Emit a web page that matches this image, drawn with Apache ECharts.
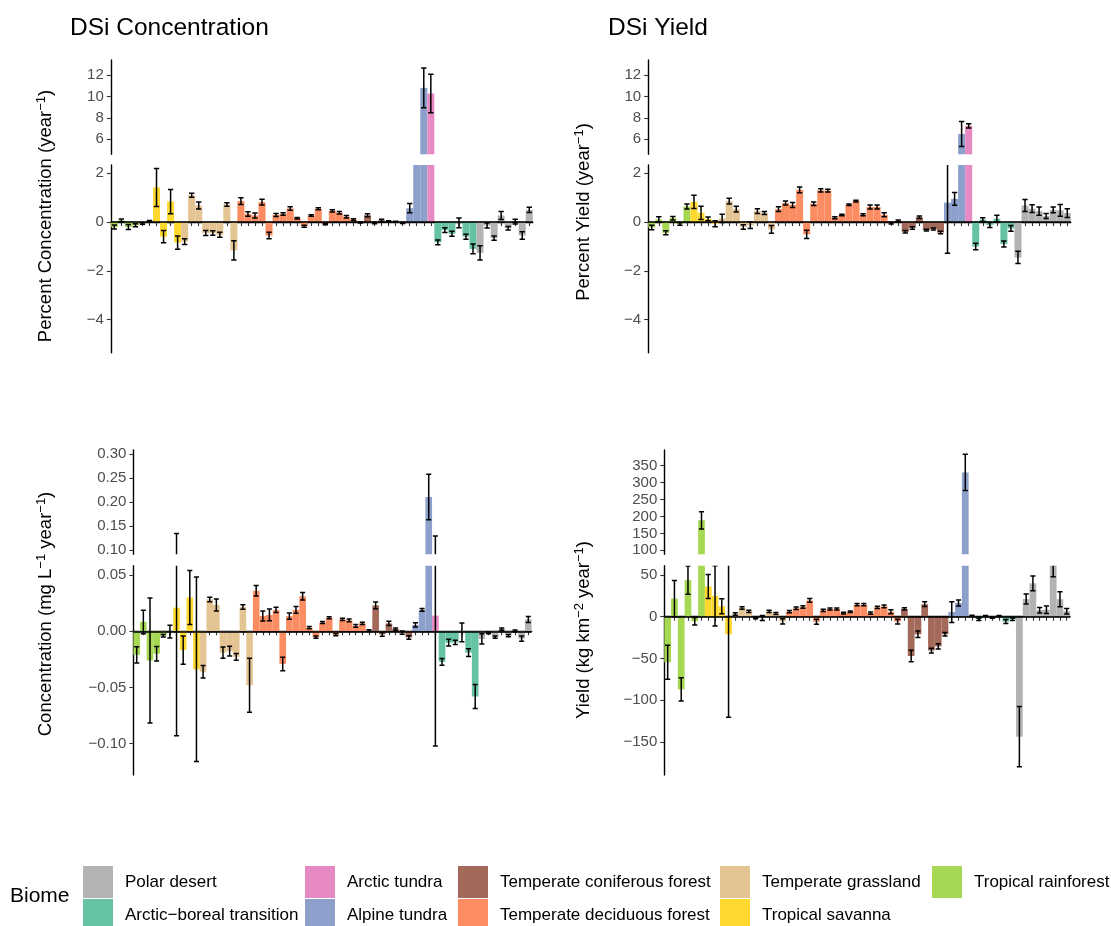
<!DOCTYPE html>
<html>
<head>
<meta charset="utf-8">
<script src="https://cdn.jsdelivr.net/npm/echarts@6/dist/echarts.min.js"></script>
<style>
  html, body { margin: 0; padding: 0; background: #ffffff; }
  #chart { width: 1111px; height: 926px; }
</style>
</head>
<body>
<div id="chart"></div>
<script>
// ---- Biomes and their colours ----
const biomes = ['Polar desert', 'Arctic\u2212boreal transition', 'Arctic tundra', 'Alpine tundra',
  'Temperate coniferous forest', 'Temperate deciduous forest', 'Temperate grassland',
  'Tropical savanna', 'Tropical rainforest'];
const biomeColors = ['#B3B3B3', '#66C2A5', '#E78AC3', '#8DA0CB', '#A36A5A', '#FC8D62', '#E5C494', '#FFD92F', '#A6D854'];

// ---- Sites (one bar per site, same order in every panel) ----
const sites = Array.from({ length: 60 }, (_, i) => 'site' + (i + 1));
// biome index for each site
const siteBiome = [
  8, 8, 8, 8, 8, 8,
  7, 7, 7, 7,
  6, 6, 6, 6, 6, 6, 6, 6,
  5, 5, 5, 5, 5, 5, 5, 5, 5, 5, 5, 5, 5, 5, 5, 5, 5,
  4, 4, 4, 4, 4, 4, 4,
  3, 3, 3,
  2,
  1, 1, 1, 1, 1, 1,
  0, 0, 0, 0, 0, 0, 0, 0
];

// ---- Percent change in DSi concentration (per year) and its standard error ----
const concPct = [
  -0.2, 0.07, -0.2, -0.13, -0.06, 0.03, 1.42, -0.6, 0.84, -0.84,
  -0.8, 1.1, 0.68, -0.45, -0.45, -0.52, 0.72, -1.16, 0.86, 0.33,
  0.27, 0.82, -0.55, 0.29, 0.33, 0.56, 0.16, -0.17, 0.27, 0.55,
  -0.08, 0.46, 0.38, 0.22, 0.1, -0.02, 0.28, -0.04, 0.07, 0.03,
  0.01, -0.04, 0.57, 3.5, 10.8, 10.27, -0.83, -0.33, -0.48, -0.03,
  -0.6, -1.1, -1.26, -0.14, -0.66, 0.27, -0.25, 0.02, -0.55, 0.5
];
const concPctErr = [
  0.08, 0.06, 0.1, 0.06, 0.03, 0.03, 0.78, 0.25, 0.5, 0.27,
  0.12, 0.08, 0.14, 0.1, 0.09, 0.1, 0.07, 0.39, 0.14, 0.09,
  0.1, 0.12, 0.13, 0.06, 0.05, 0.07, 0.03, 0.04, 0.03, 0.04,
  0.03, 0.05, 0.05, 0.05, 0.04, 0.02, 0.06, 0.03, 0.05, 0.02,
  0.02, 0.02, 0.19, 0.5, 1.85, 1.8, 0.1, 0.1, 0.1, 0.2,
  0.1, 0.2, 0.29, 0.1, 0.09, 0.16, 0.07, 0.1, 0.15, 0.11
];

// ---- Percent change in DSi yield (per year) and its standard error ----
const yieldPct = [
  -0.22, 0.11, -0.44, 0.16, -0.08, 0.64, 0.83, 0.38, 0.13, -0.07,
  0.15, 0.86, 0.53, -0.2, -0.13, 0.45, 0.37, -0.3, 0.53, 0.78,
  0.7, 1.32, -0.5, 0.75, 1.3, 1.29, 0.18, 0.29, 0.71, 0.86,
  0.3, 0.62, 0.62, 0.3, -0.05, 0.05, -0.4, -0.24, 0.2, -0.33,
  -0.28, -0.43, 0.8, 0.95, 6.5, 7.25, -1.0, 0.1, -0.12, 0.14,
  -0.9, -0.26, -1.45, 0.68, 0.55, 0.45, 0.25, 0.5, 0.48, 0.37
];
const yieldPctErr = [
  0.09, 0.11, 0.08, 0.07, 0.05, 0.1, 0.27, 0.27, 0.08, 0.12,
  0.17, 0.12, 0.12, 0.09, 0.13, 0.1, 0.06, 0.16, 0.1, 0.08,
  0.1, 0.12, 0.17, 0.07, 0.07, 0.06, 0.04, 0.03, 0.03, 0.04,
  0.04, 0.08, 0.08, 0.08, 0.03, 0.04, 0.05, 0.05, 0.05, 0.04,
  0.04, 0.05, 2.08, 0.26, 1.17, 0.2, 0.13, 0.08, 0.1, 0.14,
  0.12, 0.12, 0.25, 0.25, 0.16, 0.17, 0.1, 0.12, 0.24, 0.18
];

// ---- Change in DSi concentration (mg L-1 year-1) and its standard error ----
const conc = [
  -0.021, 0.0083, -0.026, -0.02, -0.004, -0.0003, 0.021, -0.0167, 0.03, -0.0338,
  -0.036, 0.0283, 0.0234, -0.019, -0.0177, -0.0227, 0.0216, -0.048, 0.036, 0.0136,
  0.0145, 0.019, -0.029, 0.0134, 0.019, 0.0311, 0.0032, -0.0053, 0.0077, 0.012,
  -0.003, 0.0105, 0.0097, 0.0048, 0.007, 0.0005, 0.023, -0.0027, 0.007, 0.002,
  -0.0012, -0.0055, 0.0056, 0.019, 0.211, 0.0139, -0.0272, -0.0101, -0.0099, -0.001,
  -0.019, -0.058, -0.0068, -0.0015, -0.0053, 0.002, -0.0038, 0.0003, -0.0065, 0.0104
];
const concErr = [
  0.0073, 0.0104, 0.0556, 0.0064, 0.0012, 0.0056, 0.114, 0.0126, 0.024, 0.082,
  0.0056, 0.002, 0.0053, 0.005, 0.0044, 0.003, 0.002, 0.024, 0.0047, 0.0044,
  0.0052, 0.0024, 0.006, 0.0028, 0.003, 0.0033, 0.001, 0.001, 0.0009, 0.0009,
  0.001, 0.001, 0.0013, 0.0013, 0.001, 0.0008, 0.003, 0.0017, 0.0018, 0.001,
  0.0014, 0.0015, 0.0019, 0.0012, 0.0475, 0.116, 0.003, 0.003, 0.0019, 0.0084,
  0.0035, 0.0107, 0.0045, 0.0008, 0.001, 0.001, 0.001, 0.0008, 0.0023, 0.0027
];

// ---- Change in DSi yield (kg km-2 year-1) and its standard error ----
const yieldAbs = [
  -54.5, 21.7, -87, 43.8, -5.4, 188.6, 36.3, 25, 12.5, -21,
  3.2, 10.5, 6.4, -1.5, -1.6, 6.4, 4, -5.6, 6.2, 10.2,
  11.6, 19.5, -6, 7.6, 9.2, 9.2, 4.4, 6, 14.4, 14.4,
  4.4, 11.2, 12.4, 6, -5.8, 9.4, -47, -21, 15, -40.5,
  -35.5, -21, 5.6, 16.4, 330, 1, -3, 1, -1, 0.8,
  -5.8, -3, -143.6, 21.2, 40, 7.8, 8.4, 62, 21, 6.6
];
const yieldAbsErr = [
  20.5, 21.7, 13.8, 16.8, 4.6, 25.6, 14.4, 36, 9, 99.5,
  1.5, 1.5, 1.4, 1, 3, 1.4, 1.2, 3.2, 1.4, 1.4,
  1.4, 2.3, 3, 1.4, 1.2, 1.2, 1, 1, 1.4, 1.4,
  1.4, 1.4, 1.6, 2.4, 2.8, 1.4, 7, 3.8, 2.8, 2.8,
  3.2, 2, 12.4, 3.6, 53.6, 0.8, 1.6, 0.6, 0.8, 0.8,
  2.4, 1.6, 36, 6, 8.8, 3.2, 4.4, 14, 9, 3.4
];

// ---- Tick labels of the broken y axes ----
const pctTicksUpper = [6, 8, 10, 12];
const pctTicksLower = [-4, -2, 0, 2];
const concTicksUpper = [0.10, 0.15, 0.20, 0.25, 0.30];
const concTicksLower = [-0.10, -0.05, 0.00, 0.05];
const yieldTicksUpper = [100, 150, 200, 250, 300, 350];
const yieldTicksLower = [-150, -100, -50, 0, 50];

// ---- Layout of the four panels, each split into an upper and a lower part ----
const FONT = '"Liberation Sans", Arial, Helvetica, sans-serif';
const panels = [
  { values: concPct, errors: concPctErr, left: 110.8, right: 532.8,
    upper: { top: 60, bottom: 154.3, min: 4.6, max: 13.4, ticks: pctTicksUpper, digits: 0 },
    lower: { top: 165, bottom: 352.7, min: -5.355, max: 2.34, ticks: pctTicksLower, digits: 0 } },
  { values: yieldPct, errors: yieldPctErr, left: 648.2, right: 1070.8,
    upper: { top: 60, bottom: 154.3, min: 4.6, max: 13.4, ticks: pctTicksUpper, digits: 0 },
    lower: { top: 165, bottom: 352.7, min: -5.355, max: 2.34, ticks: pctTicksLower, digits: 0 } },
  { values: conc, errors: concErr, left: 133.4, right: 531.6,
    upper: { top: 450, bottom: 554.3, min: 0.0917, max: 0.309, ticks: concTicksUpper, digits: 2 },
    lower: { top: 565.7, bottom: 775, min: -0.1278, max: 0.0583, ticks: concTicksLower, digits: 2 } },
  { values: yieldAbs, errors: yieldAbsErr, left: 664.3, right: 1070.1,
    upper: { top: 450, bottom: 554.3, min: 88.2, max: 396.4, ticks: yieldTicksUpper, digits: 0 },
    lower: { top: 565.7, bottom: 775, min: -189.5, max: 61.1, ticks: yieldTicksLower, digits: 0 } }
];

function drawErrorBar(params, api) {
  const i = api.value(0);
  const lo = api.coord([i, api.value(1)]);
  const hi = api.coord([i, api.value(2)]);
  const half = api.size([1, 0])[0] * 0.38;
  const style = { stroke: '#000000', lineWidth: 1.5, fill: null };
  return {
    type: 'group',
    children: [
      { type: 'line', shape: { x1: lo[0], y1: lo[1], x2: hi[0], y2: hi[1] }, style },
      { type: 'line', shape: { x1: lo[0] - half, y1: lo[1], x2: lo[0] + half, y2: lo[1] }, style },
      { type: 'line', shape: { x1: hi[0] - half, y1: hi[1], x2: hi[0] + half, y2: hi[1] }, style }
    ]
  };
}

const grids = [], xAxes = [], yAxes = [], series = [];
panels.forEach((p) => {
  ['upper', 'lower'].forEach((part) => {
    const g = p[part];
    const idx = grids.length;
    const isLower = part === 'lower';
    grids.push({ left: p.left, top: g.top, width: p.right - p.left, height: g.bottom - g.top, containLabel: false });
    xAxes.push({
      type: 'category', gridIndex: idx, data: sites, boundaryGap: true, show: isLower,
      axisLine: { show: isLower, lineStyle: { color: '#000', width: 1.4 } },
      axisTick: { show: isLower, alignWithLabel: true, interval: 0, length: 4, lineStyle: { color: '#333', width: 1.1 } },
      axisLabel: { show: false }, splitLine: { show: false }
    });
    yAxes.push({
      type: 'value', gridIndex: idx, min: g.min, max: g.max, scale: true,
      axisLine: { show: true, lineStyle: { color: '#000', width: 1.4 } },
      axisTick: { show: true, length: 4, customValues: g.ticks, lineStyle: { color: '#333', width: 1.1 } },
      axisLabel: {
        show: true, customValues: g.ticks, margin: 7, color: '#4D4D4D', fontSize: 15, fontFamily: FONT,
        formatter: (v) => Number(v).toFixed(g.digits).replace('-', '\u2212')
      },
      splitLine: { show: false }
    });
    const bar = {
      type: 'bar', xAxisIndex: idx, yAxisIndex: idx, barCategoryGap: '0%', clip: true, silent: true,
      data: p.values.map((v, i) => ({ value: v, itemStyle: { color: biomeColors[siteBiome[i]] } })),
      z: 2
    };
    if (isLower) {
      bar.markLine = {
        silent: true, symbol: 'none', z: 5, animation: false,
        label: { show: false },
        lineStyle: { color: '#000', type: 'solid', width: 1.6 },
        data: [{ yAxis: 0 }]
      };
    }
    series.push(bar);
    series.push({
      type: 'custom', xAxisIndex: idx, yAxisIndex: idx, clip: true, silent: true, z: 4,
      renderItem: drawErrorBar,
      encode: { x: 0, y: [1, 2] },
      data: p.values.map((v, i) => [i, v - p.errors[i], v + p.errors[i]])
    });
  });
});

// empty series that only give the legend its colour keys
biomes.forEach((b, k) => {
  series.push({ type: 'scatter', name: b, xAxisIndex: 0, yAxisIndex: 0, data: [],
    itemStyle: { color: biomeColors[k], opacity: 1 } });
});

const legendColumns = [
  { x: 83, names: [biomes[0], biomes[1]] },
  { x: 305, names: [biomes[2], biomes[3]] },
  { x: 458, names: [biomes[4], biomes[5]] },
  { x: 720, names: [biomes[6], biomes[7]] },
  { x: 932, names: [biomes[8]] }
];

function yTitle(x, y, text) {
  return {
    type: 'text', x, y, rotation: Math.PI / 2, silent: true,
    style: {
      text, fill: '#000', fontSize: 18.5, fontFamily: FONT, align: 'center', verticalAlign: 'middle',
      lineHeight: 22,
      rich: { sup: { fontSize: 13, fontFamily: FONT, fill: '#000', verticalAlign: 'top', lineHeight: 14 } }
    }
  };
}

const option = {
  animation: false,
  backgroundColor: '#ffffff',
  title: [
    { text: 'DSi Concentration', left: 70, top: 16, padding: 0, textStyle: { fontSize: 24.5, fontWeight: 'normal', color: '#000', fontFamily: FONT } },
    { text: 'DSi Yield', left: 608, top: 16, padding: 0, textStyle: { fontSize: 24.5, fontWeight: 'normal', color: '#000', fontFamily: FONT } }
  ],
  grid: grids,
  xAxis: xAxes,
  yAxis: yAxes,
  series,
  legend: legendColumns.map((c) => ({
    left: c.x, top: 866, height: 80, orient: 'vertical', padding: 0, icon: 'rect',
    itemWidth: 30, itemHeight: 32, itemGap: 1, selectedMode: false, data: c.names,
    itemStyle: { opacity: 1 },
    textStyle: { fontSize: 17, color: '#000', fontFamily: FONT, padding: [0, 0, 0, 7] }
  })),
  graphic: [
    yTitle(46, 216, 'Percent Concentration (year{sup|\u22121})'),
    yTitle(584, 212, 'Percent Yield (year{sup|\u22121})'),
    yTitle(46, 614, 'Concentration (mg L{sup|\u22121} year{sup|\u22121})'),
    yTitle(584, 630, 'Yield (kg km{sup|\u22122} year{sup|\u22121})'),
    { type: 'text', left: 10, top: 886, silent: true,
      style: { text: 'Biome', fill: '#000', fontSize: 21, fontFamily: FONT } }
  ]
};

const chart = echarts.init(document.getElementById('chart'), null, { renderer: 'canvas' });
chart.setOption(option);
</script>
</body>
</html>
